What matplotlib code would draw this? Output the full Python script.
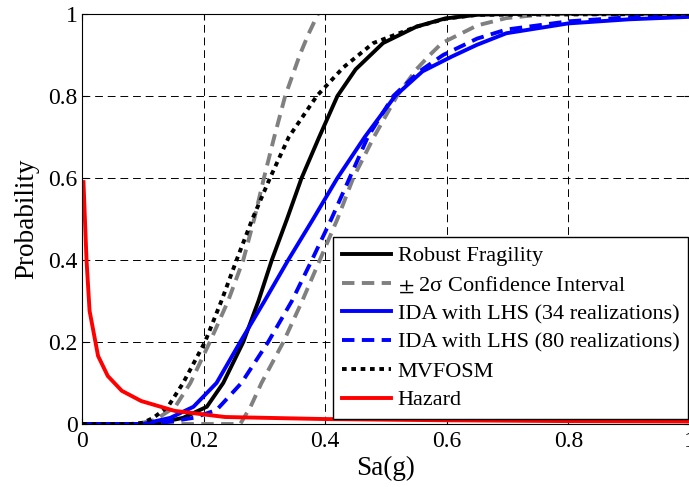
import numpy as np
import matplotlib.pyplot as plt

plt.rcParams['font.family'] = ['Liberation Serif', 'DejaVu Serif']
plt.rcParams['mathtext.fontset'] = 'stix'

# robust fragility
x_robust = [0, 0.10, 0.133, 0.166, 0.205, 0.232, 0.265, 0.29, 0.312, 0.337, 0.361, 0.39, 0.42, 0.45, 0.495, 0.55, 0.597, 0.65, 0.70, 1.0]
y_robust = [0, 0, 0.005, 0.015, 0.042, 0.10, 0.20, 0.30, 0.40, 0.50, 0.60, 0.70, 0.80, 0.865, 0.929, 0.969, 0.989, 0.998, 1.0, 1.0]

# +/- 2 sigma bounds
x_ci_hi = [0, 0.09, 0.12, 0.153, 0.178, 0.21, 0.24, 0.265, 0.283, 0.299, 0.316, 0.334, 0.358, 0.372, 0.388]
y_ci_hi = [0, 0, 0.01, 0.042, 0.10, 0.20, 0.30, 0.40, 0.50, 0.60, 0.70, 0.80, 0.90, 0.95, 1.0]
x_ci_lo = [0, 0.26, 0.277, 0.295, 0.331, 0.362, 0.391, 0.42, 0.446, 0.48, 0.518, 0.55, 0.572, 0.592, 0.65, 0.698, 0.765, 1.0]
y_ci_lo = [0, 0, 0.042, 0.10, 0.20, 0.30, 0.40, 0.50, 0.60, 0.70, 0.80, 0.865, 0.90, 0.929, 0.972, 0.99, 1.0, 1.0]

# IDA with LHS
x_ida34 = [0, 0.10, 0.145, 0.183, 0.221, 0.26, 0.30, 0.339, 0.38, 0.42, 0.465, 0.515, 0.56, 0.608, 0.65, 0.698, 0.8, 0.9, 1.0]
y_ida34 = [0, 0, 0.015, 0.042, 0.10, 0.20, 0.30, 0.40, 0.50, 0.60, 0.70, 0.80, 0.86, 0.896, 0.925, 0.953, 0.977, 0.987, 0.993]
x_ida80 = [0, 0.12, 0.183, 0.221, 0.262, 0.306, 0.345, 0.378, 0.41, 0.44, 0.47, 0.512, 0.555, 0.594, 0.65, 0.698, 0.8, 0.9, 1.0]
y_ida80 = [0, 0, 0.015, 0.034, 0.10, 0.20, 0.30, 0.40, 0.50, 0.60, 0.70, 0.80, 0.86, 0.90, 0.94, 0.962, 0.982, 0.992, 0.997]

# MVFOSM
x_mvf = [0, 0.08, 0.10, 0.117, 0.141, 0.166, 0.202, 0.229, 0.254, 0.28, 0.309, 0.34, 0.386, 0.43, 0.479, 0.55, 0.60, 0.65, 1.0]
y_mvf = [0, 0, 0.003, 0.015, 0.042, 0.10, 0.20, 0.30, 0.40, 0.50, 0.60, 0.70, 0.80, 0.87, 0.929, 0.969, 0.989, 0.998, 1.0]

# hazard
x_haz = [0.002, 0.007, 0.012, 0.026, 0.042, 0.065, 0.097, 0.152, 0.235, 0.4, 0.6, 0.8, 1.0]
y_haz = [0.59, 0.40, 0.276, 0.166, 0.117, 0.081, 0.056, 0.032, 0.017, 0.012, 0.009, 0.007, 0.006]

ticks = [0, 0.2, 0.4, 0.6, 0.8, 1.0]
tick_labels = ['0', '0.2', '0.4', '0.6', '0.8', '1']

fig = plt.figure(figsize=(6.89, 4.87), dpi=100)
ax = fig.add_axes([0.1194, 0.1294, 0.8818, 0.8419])

lw = 2.8
gray = (0.5, 0.5, 0.5)
ax.plot(x_robust, y_robust, color='k', lw=lw, label='Robust Fragility')
ax.plot(x_ci_hi, y_ci_hi, color=gray, lw=lw, dashes=(3.2, 1.9), label='$\\pm$ 2σ Confidence Interval')
ax.plot(x_ci_lo, y_ci_lo, color=gray, lw=lw, dashes=(3.2, 1.9))
ax.plot(x_ida34, y_ida34, color='b', lw=lw, label='IDA with LHS (34 realizations)')
ax.plot(x_ida80, y_ida80, color='b', lw=lw, dashes=(3.2, 1.9), label='IDA with LHS (80 realizations)')
ax.plot(x_mvf, y_mvf, color='k', lw=lw, dashes=(1.2, 1.2), label='MVFOSM')
ax.plot(x_haz, y_haz, color='r', lw=lw, label='Hazard')

ax.set_xlim(0, 1)
ax.set_ylim(0, 1)
ax.set_xticks(ticks, tick_labels)
ax.set_yticks(ticks, tick_labels)
ax.tick_params(direction='in', length=4, labelsize=17, top=True, right=True)
ax.tick_params(axis='x', pad=5)
ax.grid(color='k', lw=0.7, dashes=(8, 5))
ax.set_xlabel('Sa(g)', fontsize=19.5, labelpad=3)
ax.set_ylabel('Probability', fontsize=19.5, labelpad=6)

leg = ax.legend(loc='upper left', bbox_to_anchor=(0.413, 0.456), fontsize=16,
                fancybox=False, framealpha=1, edgecolor='k', borderaxespad=0,
                handlelength=2.2, handletextpad=0.3, labelspacing=0.37, borderpad=0.4)
leg.get_frame().set_linewidth(1.0)

plt.savefig('out.png', dpi=100)
